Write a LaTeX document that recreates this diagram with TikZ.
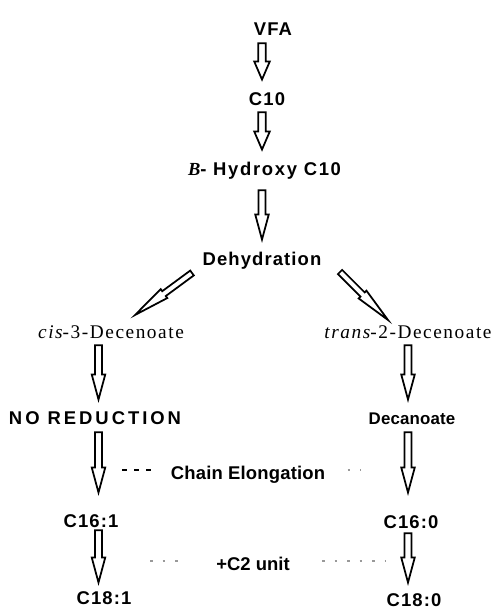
\documentclass[tikz,border=0pt]{standalone}
\usepackage{fontspec}
\setmainfont{Liberation Sans}[LetterSpace=6]
\newfontfamily\serifface{Liberation Serif}[LetterSpace=8]
\usetikzlibrary{arrows.meta,positioning,calc}

\tikzset{
  harrow/.style n args={3}{draw=black,fill=white,line width=1pt,line join=miter,
    to path={let \p1=($(\tikztotarget)-(\tikztostart)$), \n1={atan2(\y1,\x1)}, \n2={veclen(\x1,\y1)} in
      ($(\tikztostart)+(\n1+90:#1)$) -- ($(\tikztostart)+(\n1:\n2-#3)+(\n1+90:#1)$)
      -- ($(\tikztostart)+(\n1:\n2-#3)+(\n1+90:#2)$) -- (\tikztotarget)
      -- ($(\tikztostart)+(\n1:\n2-#3)+(\n1-90:#2)$) -- ($(\tikztostart)+(\n1:\n2-#3)+(\n1-90:#1)$)
      -- ($(\tikztostart)+(\n1-90:#1)$) -- cycle}}
}

\begin{document}
\begin{tikzpicture}[
  txt/.style={font=\fontsize{10.5}{12}\selectfont\bfseries,inner sep=0pt,text height=7.6pt,text depth=2.2pt},
  stxt/.style={font=\fontsize{11}{12}\selectfont\serifface,inner sep=0pt,text height=7.6pt,text depth=2.2pt},
  short/.style={harrow={0.075cm}{0.155cm}{0.36cm}},
  long/.style={harrow={0.07cm}{0.135cm}{0.5cm}},
  nib/.style={harrow={0.06cm}{0.11cm}{0.72cm}},
  dashln/.style={line width=0.8pt,dash pattern=on 0.1cm off 0.14cm},
  dotln/.style={line width=0.6pt,draw=black!40,dash pattern=on 0.05cm off 0.2cm}
]
\useasboundingbox (0,0) rectangle (9.94,-12.22);

\node[txt] (vfa) at (5.46,-0.61) {VFA};
\node[txt] (c10) at (5.34,-2.01) {C10};
\node[txt] (hydroxy) at (5.29,-3.41) {\addfontfeatures{LetterSpace=9}{\serifface\itshape B}- Hydroxy C10};
\node[txt] (dehyd) at (5.24,-5.21) {Dehydration};
\node[stxt] (cis3) at (2.22,-6.67) {{\itshape cis}-3-Decenoate};
\node[stxt] (trans2) at (8.16,-6.67) {{\itshape trans}-2-Decenoate};
\node[txt] (noreduct) at (1.90,-8.39) {\addfontfeatures{LetterSpace=16}NO REDUCTION};
\node[txt,font=\fontsize{9.6}{12}\selectfont\bfseries\addfontfeatures{LetterSpace=1}] (decan) at (8.24,-8.39) {Decanoate};
\node[txt,font=\fontsize{10.5}{12}\selectfont\bfseries\addfontfeatures{LetterSpace=1}] (elong) at (4.96,-9.49) {Chain Elongation};
\node[txt] (c161) at (1.82,-10.45) {C16:1};
\node[txt] (c160) at (8.22,-10.47) {C16:0};
\node[txt,font=\fontsize{10.5}{12}\selectfont\bfseries\addfontfeatures{LetterSpace=0}] (c2unit) at (5.06,-11.31) {+C2 unit};
\node[txt] (c181) at (2.08,-11.99) {C18:1};
\node[txt] (c180) at (8.28,-12.03) {C18:0};

\coordinate (colM) at (5.24,0);
\coordinate (colL) at (1.97,0);
\coordinate (colR) at (8.16,0);

% main stem
\draw[short] ([yshift=-0.076cm]vfa.south -| colM) to ([yshift=0.24cm]c10.north -| colM);
\draw[short] ([yshift=-0.056cm]c10.south -| colM) to ([yshift=0.24cm]hydroxy.north -| colM);
\draw[long] ([yshift=-0.216cm]hydroxy.south -| colM) to ([yshift=0.24cm]dehyd.north -| colM);

% branches
\draw[nib] ([shift={(-1.40,-0.25)}]dehyd.center) to ([shift={(0.48,0.37)}]cis3.center);
\draw[nib] ([shift={(1.56,-0.23)}]dehyd.center) to ([shift={(-0.40,0.27)}]trans2.center);

\draw[long] ([yshift=-0.056cm]cis3.south -| colL) to ([yshift=0.22cm]noreduct.north -| colL);
\draw[long] ([yshift=-0.056cm]trans2.south -| colR) to ([yshift=0.22cm]decan.north -| colR);
\draw[long] ([yshift=-0.076cm]noreduct.south -| colL) to ([yshift=0.42cm]c161.north -| colL);
\draw[long] ([yshift=-0.076cm]decan.south -| colR) to ([yshift=0.44cm]c160.north -| colR);
\draw[long] ([yshift=0.024cm]c161.south -| colL) to ([yshift=0.16cm]c181.north -| colL);
\draw[long] ([yshift=-0.016cm]c160.south -| colR) to ([yshift=0.2cm]c180.north -| colR);

% dashed hints
\coordinate (eL) at (2.44,-9.40);
\coordinate (eR) at (7.22,-9.40);
\coordinate (uL) at (3.00,-11.22);
\coordinate (uR) at (7.72,-11.22);
\draw[dashln] (eL) -- ([xshift=-0.34cm]eL -| elong.west);
\draw[dotln] ([xshift=0.44cm]eR -| elong.east) -- (eR);
\draw[dotln] (uL) -- ([xshift=-0.7cm]uL -| c2unit.west);
\draw[dotln] ([xshift=0.64cm]uR -| c2unit.east) -- (uR);
\end{tikzpicture}
\end{document}
